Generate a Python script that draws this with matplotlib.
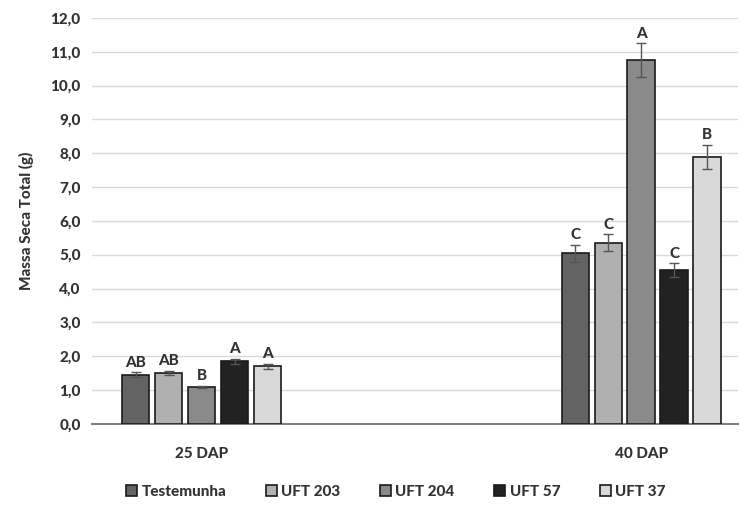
import matplotlib
matplotlib.use("Agg")
import matplotlib.pyplot as plt
import numpy as np

plt.rcParams['font.family'] = ['Lato', 'DejaVu Sans']

grupos = ['25 DAP', '40 DAP']
tratamentos = ['Testemunha', 'UFT 203', 'UFT 204', 'UFT 57', 'UFT 37']
cores = ['#636363', '#b0b0b0', '#8a8a8a', '#222222', '#d9d9d9']

massa = {
    'Testemunha': [1.45, 5.05],
    'UFT 203': [1.50, 5.35],
    'UFT 204': [1.10, 10.75],
    'UFT 57': [1.85, 4.55],
    'UFT 37': [1.70, 7.90],
}
erro = {
    'Testemunha': [0.07, 0.25],
    'UFT 203': [0.07, 0.25],
    'UFT 204': [0.03, 0.50],
    'UFT 57': [0.07, 0.20],
    'UFT 37': [0.07, 0.35],
}
letras = {
    'Testemunha': ['AB', 'C'],
    'UFT 203': ['AB', 'C'],
    'UFT 204': ['B', 'A'],
    'UFT 57': ['A', 'C'],
    'UFT 37': ['A', 'B'],
}

fig = plt.figure(figsize=(7.4, 5.15), dpi=100)
ax = fig.add_axes([0.124, 0.177, 0.873, 0.788])

x = np.arange(len(grupos))
passo = 0.075
largura = 0.062
for i, t in enumerate(tratamentos):
    pos = x + (i - 2) * passo
    ax.bar(pos, massa[t], width=largura, color=cores[i], edgecolor='#1a1a1a',
           linewidth=1.2, label=t, zorder=3)
    ax.errorbar(pos, massa[t], yerr=erro[t], fmt='none', ecolor='#555555',
                elinewidth=1, capsize=3.5, capthick=1, zorder=4)
    for p, v, e, l in zip(pos, massa[t], erro[t], letras[t]):
        ax.text(p, v + e + 0.08, l, ha='center', va='bottom', fontsize=11,
                fontweight='black', color='#333333')

ax.set_xlim(-0.25, 1.22)
ax.set_ylim(0, 12)
ax.set_yticks(np.arange(0, 13, 1))
ax.set_yticklabels([f'{v:.1f}'.replace('.', ',') for v in np.arange(0, 13, 1)])
ax.set_xticks(x)
ax.set_xticklabels(grupos)
ax.tick_params(axis='both', length=0, labelsize=11, colors='#333333', pad=8)
for lab in ax.get_xticklabels() + ax.get_yticklabels():
    lab.set_fontweight('black')
ax.tick_params(axis='x', pad=17)

ax.grid(axis='y', color='#d9d9d9', linewidth=1, zorder=0)
for s in ['top', 'right', 'left']:
    ax.spines[s].set_visible(False)
ax.spines['bottom'].set_color('#7f7f7f')
ax.spines['bottom'].set_linewidth(1.5)

ax.set_ylabel('Massa Seca Total (g)', fontsize=11, fontweight='black',
              color='#333333', labelpad=12)

leg = fig.legend(loc='center', bbox_to_anchor=(0.535, 0.045), ncol=5,
                 frameon=False, fontsize=11, handlelength=0.7, handleheight=0.7,
                 columnspacing=2.6, handletextpad=0.3)
for txt in leg.get_texts():
    txt.set_fontweight('black')
    txt.set_color('#333333')

fig.savefig('out.png', dpi=100)
